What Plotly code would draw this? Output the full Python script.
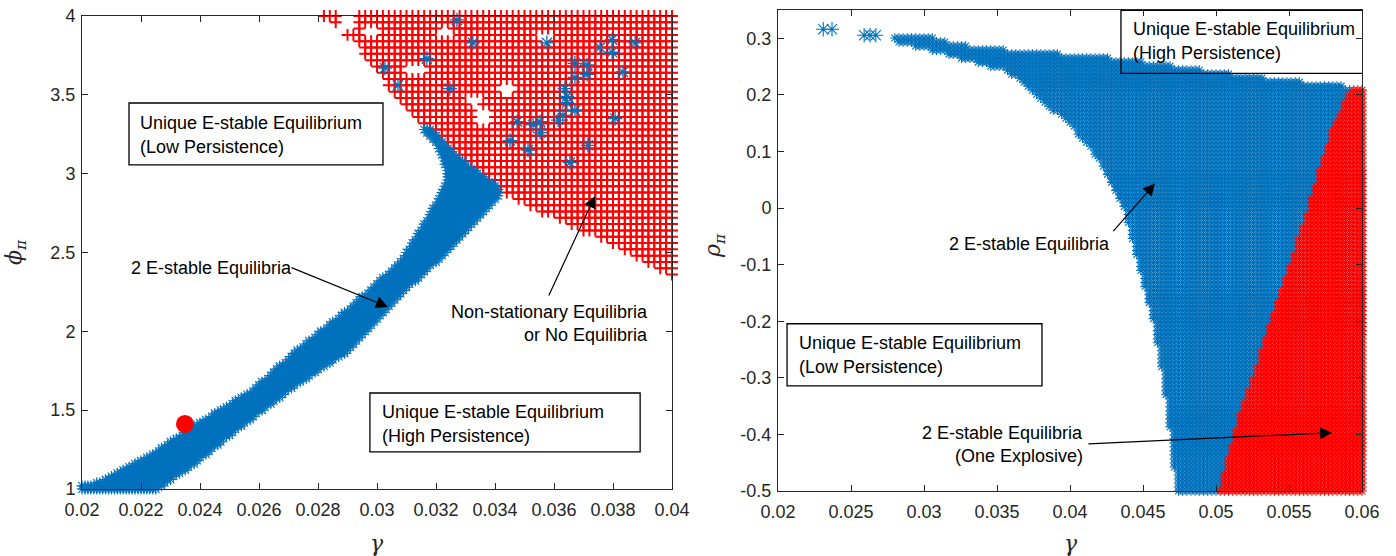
import numpy as np
import plotly.graph_objects as go

# ---------------- Left panel: gamma vs phi_pi ----------------
# Parameter grids swept for each equilibrium class
L_BLUE_GAMMA_GRID = np.round(np.arange(0.0200, 0.04001, 0.0001), 5)
L_BLUE_PHI_GRID = np.round(np.arange(1.00, 4.001, 0.02), 3)
L_RED_GAMMA_GRID = np.round(np.arange(0.0200, 0.04001, 0.0002), 5)
L_RED_PHI_GRID = np.round(np.arange(1.00, 4.001, 0.04), 3)

# Region with two E-stable equilibria (outline of the band)
BAND_GAMMA = [0.0199, 0.0199, 0.02061, 0.02231, 0.0240, 0.02569, 0.02739, 0.02908,
              0.03078, 0.0319, 0.0323, 0.0324, 0.03203, 0.03153, 0.0317, 0.0327,
              0.0342, 0.03414, 0.03346, 0.03234, 0.03064, 0.02895, 0.02725,
              0.02556, 0.02386, 0.02255, 0.0225]
BAND_PHI = [0.99, 1.02, 1.044, 1.216, 1.426, 1.616, 1.895, 2.148,
            2.44, 2.78, 2.93, 3.00, 3.19, 3.28, 3.30, 3.11,
            2.90, 2.86, 2.713, 2.497, 2.205, 1.863, 1.657,
            1.419, 1.165, 1.0, 0.99]

# Region with non-stationary equilibria or no equilibria
NONSTAT_GAMMA = [0.0281, 0.0294, 0.0299, 0.0306, 0.0313, 0.0327, 0.0341, 0.0353,
                 0.0373, 0.0392, 0.0401, 0.0401]
NONSTAT_PHI = [4.01, 3.81, 3.68, 3.50, 3.34, 3.11, 2.89, 2.78,
               2.61, 2.44, 2.33, 4.01]

# Unclassified pockets inside the non-stationary region
HOLE_GAMMA = [0.0313, 0.0323, 0.0333, 0.0336, 0.0344, 0.0357, 0.0290, 0.0298]
HOLE_PHI = [3.66, 3.89, 3.47, 3.36, 3.53, 3.87, 3.96, 3.90]

# Isolated points with two E-stable equilibria
ISO_GAMMA = [0.03271, 0.03325, 0.03576, 0.03797, 0.03875, 0.03756, 0.03797, 0.03169,
             0.03027, 0.03071, 0.03247, 0.03671, 0.03712, 0.03712, 0.03671, 0.03834,
             0.03637, 0.03644, 0.03644, 0.03671, 0.0363, 0.03614, 0.03553, 0.03529,
             0.03553, 0.03475, 0.03807, 0.03451, 0.03512, 0.03715, 0.03654]
ISO_PHI = [3.975, 3.83, 3.83, 3.85, 3.83, 3.80, 3.77, 3.73,
           3.67, 3.56, 3.54, 3.70, 3.69, 3.63, 3.61, 3.645,
           3.54, 3.49, 3.45, 3.40, 3.37, 3.34, 3.33, 3.31,
           3.26, 3.33, 3.35, 3.21, 3.15, 3.18, 3.07]

# Calibrated parameter point
CAL_GAMMA = [0.02349]
CAL_PHI = [1.413]

# ---------------- Right panel: gamma vs rho_pi ----------------
R_GAMMA_GRID = np.linspace(0.02, 0.06, 141)
R_RHO_GRID = np.linspace(-0.5, 0.35, 121)

TWO_GAMMA = [0.0278, 0.0305, 0.0320, 0.0350, 0.0380, 0.0436, 0.0494, 0.0551, 0.0601,
             0.0601, 0.0473, 0.0473, 0.0469, 0.0464, 0.0457, 0.0447, 0.0437, 0.0427,
             0.0416, 0.0399, 0.0378, 0.0357, 0.0318, 0.0295, 0.0278]
TWO_RHO = [0.302, 0.302, 0.289, 0.280, 0.275, 0.263, 0.242, 0.224, 0.212,
           -0.505, -0.505, -0.50, -0.40, -0.30, -0.20, -0.10, 0.0, 0.05,
           0.10, 0.15, 0.196, 0.243, 0.27, 0.284, 0.296]

EXPL_GAMMA = [0.0502, 0.0517, 0.0532, 0.0548, 0.0565, 0.0579, 0.0591, 0.0595, 0.0601, 0.0601]
EXPL_RHO = [-0.505, -0.364, -0.247, -0.128, 0.013, 0.132, 0.203, 0.215, 0.215, -0.505]

TOP_GAMMA = [0.0231, 0.0237, 0.0259, 0.0263, 0.0267]
TOP_RHO = [0.316, 0.316, 0.3055, 0.3055, 0.3055]

BLUE = "#0072BD"
RED = "#FF0000"
AXC = "#262626"
FONT = "Liberation Sans"


def inside(px, py, vx, vy):
    vx = np.asarray(vx)
    vy = np.asarray(vy)
    res = np.zeros(px.shape, dtype=bool)
    j = len(vx) - 1
    for i in range(len(vx)):
        cross = (vy[i] > py) != (vy[j] > py)
        xint = (vx[j] - vx[i]) * (py - vy[i]) / (vy[j] - vy[i] + 1e-30) + vx[i]
        res ^= cross & (px < xint)
        j = i
    return res


# left panel point sets
gb, pb = np.meshgrid(L_BLUE_GAMMA_GRID, L_BLUE_PHI_GRID)
gb, pb = gb.ravel(), pb.ravel()
mb = inside(gb, pb, BAND_GAMMA, BAND_PHI)

gr, pr = np.meshgrid(L_RED_GAMMA_GRID, L_RED_PHI_GRID)
gr, pr = gr.ravel(), pr.ravel()
mr = inside(gr, pr, NONSTAT_GAMMA, NONSTAT_PHI)
for hg, hp in zip(HOLE_GAMMA, HOLE_PHI):
    mr &= ((gr - hg) / 0.00035) ** 2 + ((pr - hp) / 0.05) ** 2 > 1

# right panel point sets
g2, r2 = np.meshgrid(R_GAMMA_GRID, R_RHO_GRID)
g2, r2 = g2.ravel(), r2.ravel()
m_two = inside(g2, r2, TWO_GAMMA, TWO_RHO)
m_exp = inside(g2, r2, EXPL_GAMMA, EXPL_RHO)
m_two &= ~m_exp

fig = go.Figure()


def add_pts(x, y, xa, ya, symbol, color, size, width):
    fig.add_trace(go.Scatter(
        x=x, y=y, xaxis=xa, yaxis=ya, mode="markers", cliponaxis=False,
        hoverinfo="skip", showlegend=False,
        marker=dict(symbol=symbol, color=color, size=size,
                    line=dict(color=color, width=width))))


add_pts(gr[mr], pr[mr], "x", "y", "cross-thin-open", RED, 8.5, 2.0)
add_pts(gb[mb], pb[mb], "x", "y", "asterisk-open", BLUE, 9, 1.1)
add_pts(ISO_GAMMA, ISO_PHI, "x", "y", "asterisk-open", BLUE, 12, 1.3)
fig.add_trace(go.Scatter(x=CAL_GAMMA, y=CAL_PHI, xaxis="x", yaxis="y", mode="markers",
                         cliponaxis=False, hoverinfo="skip", showlegend=False,
                         marker=dict(symbol="circle", color=RED, size=18, line=dict(width=0))))

add_pts(g2[m_two], r2[m_two], "x2", "y2", "asterisk-open", BLUE, 8, 1.1)
add_pts(g2[m_exp], r2[m_exp], "x2", "y2", "asterisk-open", RED, 8, 1.1)
add_pts(TOP_GAMMA, TOP_RHO, "x2", "y2", "asterisk-open", BLUE, 12, 1.1)

W, H = 1396, 556


def dom_x(a, b):
    return [a / W, b / W]


def dom_y(top, bottom):
    return [1 - bottom / H, 1 - top / H]


axis_common = dict(showgrid=False, zeroline=False, showline=True, linecolor=AXC, linewidth=1,
                   mirror="ticks", ticks="inside", ticklen=6, tickwidth=1, tickcolor=AXC,
                   automargin=False,
                   tickfont=dict(family=FONT, size=18, color=AXC))

LX_TICKS = [0.02, 0.022, 0.024, 0.026, 0.028, 0.03, 0.032, 0.034, 0.036, 0.038, 0.04]
LX_TEXT = ["0.02", "0.022", "0.024", "0.026", "0.028", "0.03", "0.032", "0.034", "0.036", "0.038", "0.04"]
LY_TICKS = [1, 1.5, 2, 2.5, 3, 3.5, 4]
LY_TEXT = ["1", "1.5", "2", "2.5", "3", "3.5", "4"]
RX_TICKS = [0.02, 0.025, 0.03, 0.035, 0.04, 0.045, 0.05, 0.055, 0.06]
RX_TEXT = ["0.02", "0.025", "0.03", "0.035", "0.04", "0.045", "0.05", "0.055", "0.06"]
RY_TICKS = [-0.5, -0.4, -0.3, -0.2, -0.1, 0, 0.1, 0.2, 0.3]
RY_TEXT = ["-0.5", "-0.4", "-0.3", "-0.2", "-0.1", "0", "0.1", "0.2", "0.3"]

fig.update_layout(
    width=W, height=H, margin=dict(l=0, r=0, t=0, b=0, autoexpand=False),
    paper_bgcolor="white", plot_bgcolor="white", showlegend=False,
    xaxis=dict(domain=dom_x(82, 672), range=[0.02, 0.04], anchor="y", ticklabelstandoff=4,
               tickvals=LX_TICKS, ticktext=LX_TEXT, **axis_common),
    yaxis=dict(domain=dom_y(16, 489), range=[1, 4], anchor="x", ticklabelstandoff=2,
               tickvals=LY_TICKS, ticktext=LY_TEXT, **axis_common),
    xaxis2=dict(domain=dom_x(778, 1362), range=[0.02, 0.06], anchor="y2", ticklabelstandoff=4,
                tickvals=RX_TICKS, ticktext=RX_TEXT, **axis_common),
    yaxis2=dict(domain=dom_y(10, 491), range=[-0.5, 0.35], anchor="x2", ticklabelstandoff=2,
                tickvals=RY_TICKS, ticktext=RY_TEXT, **axis_common),
)

TXT = dict(family=FONT, size=18, color="black")
annotations = []
shapes = []


def label(x, y, text, xa, ya, anchor="left"):
    annotations.append(dict(x=x, y=y, xref=xa, yref=ya, text=text, showarrow=False,
                            xanchor=anchor, yanchor="middle", font=TXT))


def box(x0, x1, y0, y1, xa, ya):
    shapes.append(dict(type="rect", x0=x0, x1=x1, y0=y0, y1=y1, xref=xa, yref=ya,
                       line=dict(color="black", width=1.3), fillcolor="rgba(0,0,0,0)",
                       layer="above"))


def arrow(x_tail, y_tail, x_head, y_head, xa, ya):
    annotations.append(dict(x=x_head, y=y_head, ax=x_tail, ay=y_tail, xref=xa, yref=ya,
                            axref=xa, ayref=ya, text="", showarrow=True, arrowhead=2,
                            arrowsize=2.0, arrowwidth=1.2, arrowcolor="black"))


# left panel labels
box(0.021593, 0.030203, 3.0552, 3.4483, "x", "y")
label(0.0219, 3.3215, "Unique E-stable Equilibrium", "x", "y")
label(0.0219, 3.169, "(Low Persistence)", "x", "y")
label(0.02159, 2.402, "2 E-stable Equilibria", "x", "y")
arrow(0.02705, 2.408, 0.03037, 2.155, "x", "y")
label(0.03925, 2.123, "Non-stationary Equilibria", "x", "y", "right")
label(0.03925, 1.977, "or No Equilibria", "x", "y", "right")
arrow(0.0358, 2.218, 0.03739, 2.859, "x", "y")
box(0.02976, 0.03892, 1.2353, 1.609, "x", "y")
label(0.0301, 1.489, "Unique E-stable Equilibrium", "x", "y")
label(0.0301, 1.337, "(High Persistence)", "x", "y")

# right panel labels
box(0.04349, 0.06021, 0.238, 0.3496, "x2", "y2")
label(0.04418, 0.316, "Unique E-stable Equilibrium", "x2", "y2")
label(0.04418, 0.2735, "(High Persistence)", "x2", "y2")
label(0.04288, -0.0628, "2 E-stable Equilibria", "x2", "y2", "right")
arrow(0.04288, -0.0434, 0.04582, 0.0434, "x2", "y2")
box(0.02062, 0.03808, -0.3142, -0.2044, "x2", "y2")
label(0.0213, -0.238, "Unique E-stable Equilibrium", "x2", "y2")
label(0.0213, -0.2805, "(Low Persistence)", "x2", "y2")
label(0.04103, -0.3973, "2 E-stable Equilibria", "x2", "y2", "right")
label(0.04103, -0.438, "(One Explosive)", "x2", "y2", "right")
arrow(0.04116, -0.4168, 0.05795, -0.397, "x2", "y2")

# axis titles
SERIF = dict(family="DejaVu Serif", size=22, color=AXC)
annotations.append(dict(x=377 / W, y=1 - 543 / H, xref="paper", yref="paper", text="<i>γ</i>",
                        showarrow=False, font=SERIF, xanchor="center", yanchor="middle"))
annotations.append(dict(x=1071 / W, y=1 - 543 / H, xref="paper", yref="paper", text="<i>γ</i>",
                        showarrow=False, font=SERIF, xanchor="center", yanchor="middle"))
annotations.append(dict(x=15 / W, y=1 - 252 / H, xref="paper", yref="paper",
                        text="<i>ϕ</i><sub><i>π</i></sub>", textangle=-90,
                        showarrow=False, font=SERIF, xanchor="center", yanchor="middle"))
annotations.append(dict(x=714 / W, y=1 - 246 / H, xref="paper", yref="paper",
                        text="<i>ρ</i><sub><i>π</i></sub>", textangle=-90,
                        showarrow=False, font=SERIF, xanchor="center", yanchor="middle"))

fig.update_layout(annotations=annotations, shapes=shapes)
fig.write_html("out.html")
